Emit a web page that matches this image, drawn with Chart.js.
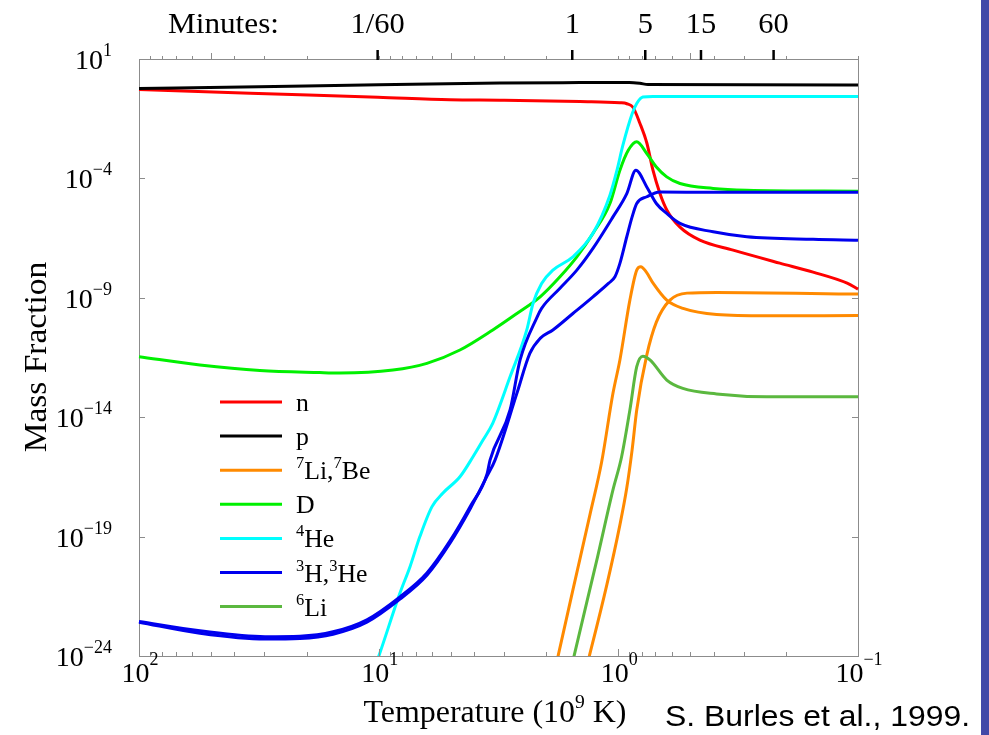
<!DOCTYPE html>
<html><head><meta charset="utf-8">
<script src="https://cdn.jsdelivr.net/npm/chart.js@4.4.1/dist/chart.umd.min.js"></script>
<style>html,body{margin:0;padding:0;background:#fff;overflow:hidden}canvas{display:block}
#bar{position:absolute;left:981px;top:0;width:8px;height:735px;background:#4349a8}</style>
</head><body>
<canvas id="c" width="989" height="735"></canvas>
<div id="bar"></div>
<script>
// ---- data (temperature in 10^9 K, mass fraction) ----
const T_n = [100, 34.4, 10.07, 5.04, 3.12, 1.446, 0.985, 0.921, 0.869, 0.813, 0.76, 0.717, 0.671, 0.627, 0.553, 0.457, 0.332, 0.212, 0.154, 0.111, 0.1];
const Y_n = [0.525, 0.367, 0.25, 0.196, 0.187, 0.165, 0.147, 0.134, 0.0953, 0.0204, 2.97e-3, 2.2e-4, 2.4e-5, 4.67e-6, 9.1e-7, 2.6e-7, 9.9e-8, 2.83e-8, 1.19e-8, 4.1e-9, 2.3e-9];

const T_p = [100, 31.6, 10, 3.12, 1.446, 0.9, 0.813, 0.752, 0.1];
const Y_p = [0.578, 0.693, 0.834, 0.99, 1.03, 1.04, 0.96, 0.85, 0.817];

const T_Li7a = [1.875, 1.786, 1.547, 1.314, 1.174, 1.053, 0.985, 0.895, 0.838, 0.806, 0.764, 0.715, 0.628, 0.537, 0.389, 0.24, 0.1];
const Y_Li7a = [1e-25, 9.5e-25, 5.9e-22, 8.1e-19, 1.33e-16, 1e-13, 2.5e-12, 8.0e-10, 1.44e-8, 2.0e-8, 1.19e-8, 4.0e-9, 8.0e-10, 3.6e-10, 2.0e-10, 1.77e-10, 1.8e-10];

const T_Li7b = [1.402, 1.323, 1.117, 0.985, 0.922, 0.876, 0.838, 0.761, 0.694, 0.609, 0.517, 0.388, 0.1];
const Y_Li7b = [1e-25, 9.5e-25, 9.5e-22, 3.1e-19, 1.1e-17, 4.3e-16, 2.0e-14, 4.0e-12, 9.6e-11, 8.0e-10, 1.57e-9, 1.68e-9, 1.43e-9];

const T_D = [100, 55.7, 31.3, 17.6, 14.5, 8.72, 6.29, 4.58, 3.34, 2.65, 2.12, 1.752, 1.49, 1.276, 1.084, 0.985, 0.909, 0.838, 0.761, 0.694, 0.628, 0.553, 0.402, 0.291, 0.1];
const Y_D = [3.4e-12, 1.53e-12, 9.0e-13, 7.4e-13, 7.1e-13, 9.4e-13, 1.8e-12, 6.5e-12, 4.5e-11, 2.2e-10, 1.1e-9, 7.6e-9, 5.2e-8, 5.0e-7, 8.9e-6, 2.2e-4, 1.5e-3, 3.4e-3, 1.1e-3, 3.0e-4, 1.16e-4, 6.1e-5, 3.8e-5, 3.2e-5, 2.9e-5];

const T_He4 = [10.84, 10.0, 8.15, 7.40, 6.73, 5.99, 5.39, 4.58, 4.04, 3.67, 3.34, 2.83, 2.41, 2.27, 2.09, 1.875, 1.547, 1.276, 1.084, 1.013, 0.957, 0.875, 0.838, 0.79, 0.717, 0.1];
const Y_He4 = [1e-25, 9.5e-25, 4.3e-22, 5.5e-21, 1e-19, 1.8e-18, 6.7e-18, 3.2e-17, 2.2e-16, 1.1e-15, 5.7e-15, 4.9e-13, 4.5e-11, 5.8e-10, 4.0e-9, 1.44e-8, 5.2e-8, 5.0e-7, 1.98e-5, 2.2e-4, 2.45e-3, 0.052, 0.136, 0.255, 0.268, 0.267];

const T_H3a = [100, 55.7, 29.8, 21.3, 15.5, 11.2, 8.15, 6.29, 5.04, 4.16, 3.53, 3.43, 2.83, 2.57, 2.18, 2.09, 1.752, 1.49, 1.276, 1.053, 0.922, 0.845, 0.761, 0.694, 0.628, 0.553, 0.402, 0.291, 0.154, 0.1];
const Y_H3a = [2.8e-23, 1.13e-23, 6.4e-24, 6.7e-24, 1.03e-23, 3.3e-23, 3.0e-22, 3.0e-21, 6.6e-20, 1.75e-18, 4.2e-17, 1.6e-16, 2.0e-14, 2.5e-12, 1.6e-10, 3.6e-10, 2.5e-9, 1.44e-8, 1.17e-7, 2.45e-6, 2.3e-5, 2.2e-4, 4.4e-5, 8.9e-6, 3.4e-6, 1.3e-6, 5.8e-7, 3.6e-7, 2.8e-7, 2.6e-7];

const T_H3b = [100, 55.7, 29.8, 21.3, 15.5, 11.2, 8.15, 6.29, 5.04, 4.16, 3.53, 3.27, 2.65, 2.34, 2.12, 1.875, 1.547, 1.276, 1.10, 1.033, 0.985, 0.922, 0.876, 0.838, 0.761, 0.671, 0.403, 0.1];
const Y_H3b = [2.6e-23, 9.0e-24, 5.1e-24, 5.4e-24, 8.2e-24, 2.6e-23, 2.4e-22, 2.4e-21, 5.3e-20, 1.4e-18, 3.4e-17, 1.6e-16, 1.0e-13, 4.7e-12, 2.0e-11, 4.5e-11, 2.2e-10, 1.1e-9, 4.0e-9, 7.6e-9, 2.75e-8, 3.6e-7, 2.45e-6, 8.9e-6, 1.7e-5, 2.7e-5, 2.6e-5, 2.6e-5];

const T_Li6 = [1.61, 1.532, 1.22, 1.053, 0.969, 0.895, 0.838, 0.79, 0.738, 0.628, 0.538, 0.389, 0.24, 0.1];
const Y_Li6 = [1e-25, 9.5e-25, 1.46e-20, 9.0e-18, 2.2e-16, 2.0e-14, 1.3e-12, 3.6e-12, 2.5e-12, 3.6e-13, 1.6e-13, 9.4e-14, 7.2e-14, 7.2e-14];

// ---- tick labels ----
const yTickExps = [1, -4, -9, -14, -19, -24];
const xTickExps = [2, 1, 0, -1];
const minuteLabels = ['1/60', '1', '5', '15', '60'];
const minuteTemps = [10.1, 1.557, 0.772, 0.452, 0.225];

const seriesDefs = [
  {label: 'n', T: T_n, Y: Y_n, color: '#ff0000'},
  {label: 'p', T: T_p, Y: Y_p, color: '#000000'},
  {label: '^{7}Li,^{7}Be', T: T_Li7a, Y: Y_Li7a, color: '#ff8a00'},
  {label: '^{7}Li,^{7}Be', T: T_Li7b, Y: Y_Li7b, color: '#ff8a00'},
  {label: 'D', T: T_D, Y: Y_D, color: '#00f000'},
  {label: '^{4}He', T: T_He4, Y: Y_He4, color: '#00ffff'},
  {label: '^{3}H,^{3}He', T: T_H3a, Y: Y_H3a, color: '#0000ee'},
  {label: '^{3}H,^{3}He', T: T_H3b, Y: Y_H3b, color: '#0000ee'},
  {label: '^{6}Li', T: T_Li6, Y: Y_Li6, color: '#5bb83f'}
];

const datasets = seriesDefs.map((s, i) => ({
  label: s.label,
  data: s.T.map((t, k) => ({x: t, y: s.Y[k]})),
  borderColor: s.color,
  backgroundColor: s.color,
  borderWidth: 3,
  pointRadius: 0,
  fill: false,
  cubicInterpolationMode: 'monotone',
  clip: {left: 2, right: 2, top: 0, bottom: 0},
  order: seriesDefs.length - i
}));

const SERIF = '"Liberation Serif","Times New Roman",serif';
const SANS = '"Liberation Sans",Arial,sans-serif';

function parseRich(s) {
  const out = []; const re = /\^\{([^}]*)\}/g; let last = 0, m;
  while ((m = re.exec(s))) {
    if (m.index > last) out.push([s.slice(last, m.index), false]);
    out.push([m[1], true]); last = re.lastIndex;
  }
  if (last < s.length) out.push([s.slice(last), false]);
  return out;
}
function drawRich(ctx, s, x, y, o) {
  const parts = parseRich(s);
  const fam = o.family || SERIF, size = o.size, ss = o.supSize || Math.round(size * 0.65);
  const raise = o.raise != null ? o.raise : size * 0.45, sx = o.sx || 1;
  let w = 0;
  const ws = parts.map(p => { ctx.font = (p[1] ? ss : size) + 'px ' + fam; const mw = ctx.measureText(p[0]).width; w += mw; return mw; });
  const start = o.align === 'center' ? -w / 2 : (o.align === 'right' ? -w : 0);
  ctx.save();
  ctx.translate(x, y);
  if (o.rot) ctx.rotate(o.rot);
  ctx.scale(sx, 1);
  ctx.fillStyle = o.color || '#000';
  ctx.textBaseline = 'alphabetic'; ctx.textAlign = 'left';
  let cx = start;
  parts.forEach((p, i) => { ctx.font = (p[1] ? ss : size) + 'px ' + fam; ctx.fillText(p[0], cx, p[1] ? -raise : 0); cx += ws[i]; });
  ctx.restore();
}
const expStr = e => (e < 0 ? '\u2212' + (-e) : String(e));

const decor = {
  id: 'decor',
  afterDraw(chart) {
    const ctx = chart.ctx, ca = chart.chartArea;
    const xs = chart.scales.x, ys = chart.scales.y;
    ctx.save();
    ctx.strokeStyle = '#8c8c8c'; ctx.lineWidth = 1;
    for (let k = -1; k <= 1; k++) {
      for (let m = 1; m <= 9; m++) {
        const v = m * Math.pow(10, k);
        const px = Math.round(xs.getPixelForValue(v)) + 0.5;
        const lenB = m === 1 ? 7 : 4;
        const lenT = m === 5 ? 6 : 3;
        ctx.beginPath();
        ctx.moveTo(px, ca.bottom); ctx.lineTo(px, ca.bottom - lenB);
        ctx.moveTo(px, ca.top); ctx.lineTo(px, ca.top - lenT);
        ctx.stroke();
      }
    }
    yTickExps.forEach(e => {
      const py = Math.round(ys.getPixelForValue(Math.pow(10, e))) + 0.5;
      ctx.beginPath();
      ctx.moveTo(ca.left, py); ctx.lineTo(ca.left + 6, py);
      ctx.moveTo(ca.right, py); ctx.lineTo(ca.right - 6, py);
      ctx.stroke();
    });
    ctx.strokeStyle = '#000'; ctx.lineWidth = 2.5;
    minuteTemps.forEach(t => {
      const px = xs.getPixelForValue(t);
      ctx.beginPath(); ctx.moveTo(px, ca.top + 1); ctx.lineTo(px, ca.top - 9); ctx.stroke();
    });
    ctx.restore();

    yTickExps.forEach(e => {
      const py = ys.getPixelForValue(Math.pow(10, e));
      drawRich(ctx, '10^{' + expStr(e) + '}', 112, py + 10, {size: 28, supSize: 18, raise: 13, align: 'right'});
    });
    xTickExps.forEach(e => {
      const px = xs.getPixelForValue(Math.pow(10, e));
      drawRich(ctx, '10^{' + expStr(e) + '}', px + 1, ca.bottom + 26, {size: 28, supSize: 18, raise: 17, align: 'center'});
    });
    minuteLabels.forEach((l, i) => {
      const px = xs.getPixelForValue(minuteTemps[i]);
      drawRich(ctx, l, px, 33, {size: 29, align: 'center', sx: 1.05});
    });
    drawRich(ctx, 'Minutes:', 168, 33, {size: 30, align: 'left', sx: 1.04});
    drawRich(ctx, 'Temperature (10^{9} K)', 495, 722, {size: 31, supSize: 19, raise: 14, align: 'center', sx: 1.03});
    drawRich(ctx, 'Mass Fraction', 46, 357, {size: 31, align: 'center', rot: -Math.PI / 2, sx: 1.08});
    drawRich(ctx, 'S. Burles et al., 1999.', 665, 726, {size: 29, family: SANS, align: 'left', sx: 1.1});

    const seen = [];
    chart.data.datasets.forEach(d => { if (!seen.find(s => s.label === d.label)) seen.push({label: d.label, color: d.borderColor}); });
    seen.forEach((s, i) => {
      const ly = 402 + i * 34.1;
      ctx.save();
      ctx.strokeStyle = s.color; ctx.lineWidth = 3;
      ctx.beginPath(); ctx.moveTo(220, ly); ctx.lineTo(282, ly); ctx.stroke();
      ctx.restore();
      drawRich(ctx, s.label, 296, ly + 9, {size: 25, supSize: 16, raise: 11, align: 'left', sx: 1.03});
    });
  }
};

const axisBase = (pos, extra) => Object.assign({
  type: 'logarithmic', position: pos, display: true,
  ticks: {display: false},
  grid: {display: false, drawTicks: false},
  border: {display: true, color: '#8c8c8c', width: 1}
}, extra);

new Chart(document.getElementById('c'), {
  type: 'line',
  data: {datasets},
  options: {
    responsive: false, animation: false, events: [],
    layout: {padding: {left: 139, right: 131, top: 59, bottom: 79}},
    plugins: {legend: {display: false}, tooltip: {enabled: false}},
    scales: {
      x: axisBase('bottom', {min: 0.1, max: 100, reverse: true}),
      xTop: axisBase('top', {min: 0.1, max: 100, reverse: true}),
      y: axisBase('left', {min: 1e-24, max: 10}),
      yRight: axisBase('right', {min: 1e-24, max: 10})
    }
  },
  plugins: [decor]
});
</script>
</body></html>
